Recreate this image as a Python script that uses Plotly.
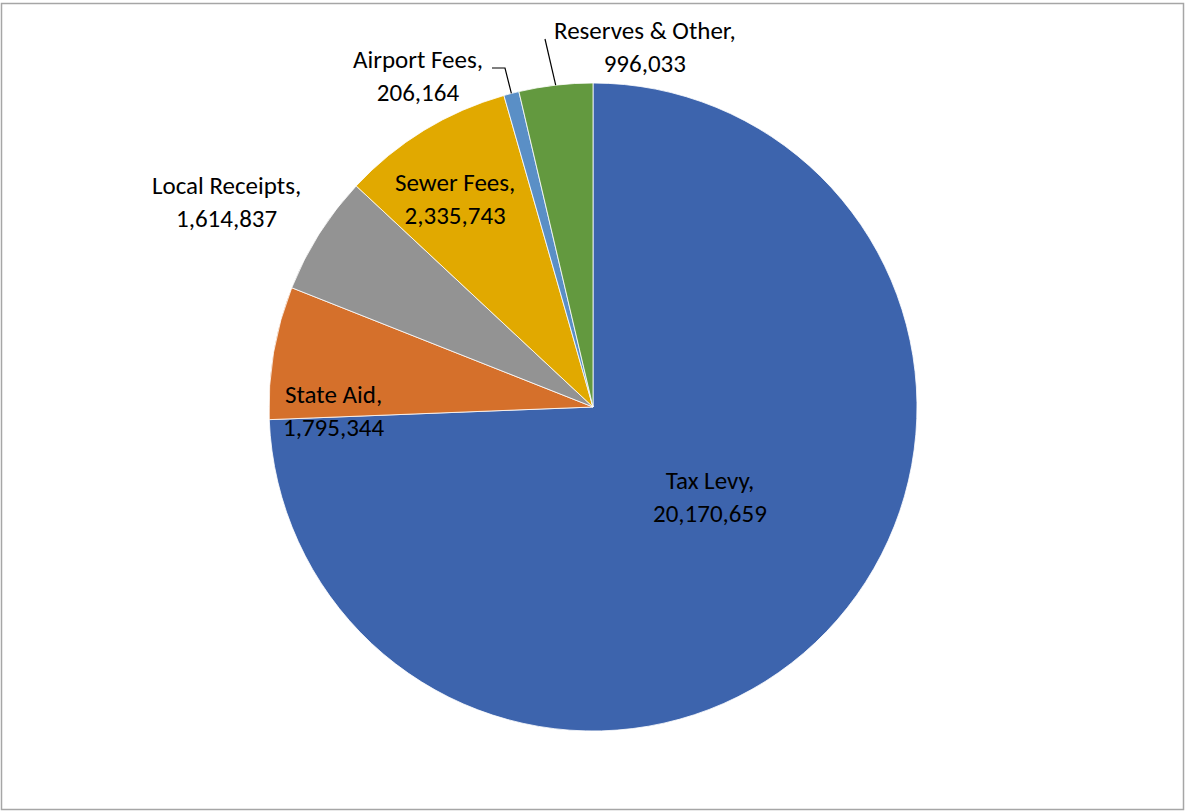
import math
import plotly.graph_objects as go

categories = ["Tax Levy", "State Aid", "Local Receipts", "Sewer Fees", "Airport Fees", "Reserves & Other"]
values = [20170659, 1795344, 1614837, 2335743, 206164, 996033]
colors = ["#3D64AD", "#D5702B", "#939393", "#E1A900", "#5A8FC6", "#63993F"]

W, H = 1185, 811
CX, CY, R = 593, 407, 324  # pie center/radius in pixels


def px(x):
    return x / W


def py(y):
    return 1 - y / H


fig = go.Figure(go.Pie(
    labels=categories,
    values=values,
    sort=False,
    direction="clockwise",
    rotation=0,
    marker=dict(colors=colors, line=dict(color="white", width=0.8)),
    textinfo="none",
    hoverinfo="label+value",
    domain=dict(x=[px(CX - R), px(CX + R)], y=[py(CY + R), py(CY - R)]),
    showlegend=False,
))

# label placement (pixel centres) per category
label_pos = {
    "Tax Levy": (710, 497),
    "State Aid": (334, 411),
    "Local Receipts": (226, 202),
    "Sewer Fees": (455, 199),
    "Airport Fees": (418, 76),
    "Reserves & Other": (645, 47),
}

annotations = []
for cat, val in zip(categories, values):
    x, y = label_pos[cat]
    annotations.append(dict(
        x=px(x), y=py(y), xref="paper", yref="paper",
        text=f"{cat},<br>{val:,}", showarrow=False,
        font=dict(family="Carlito, Lato, sans-serif", size=25, color="#000000"),
        align="center", xanchor="center", yanchor="middle",
    ))

# leader lines for the small slices, computed from slice mid-angles
total = sum(values)
cum = 0
mids = {}
for cat, val in zip(categories, values):
    mids[cat] = (cum + val / 2) / total * 2 * math.pi
    cum += val

shapes = []


def edge(cat, f=1.0):
    a = mids[cat]
    return CX + R * f * math.sin(a), CY - R * f * math.cos(a)


ex, ey = edge("Airport Fees")
shapes.append(dict(type="path", xref="paper", yref="paper",
                   path=f"M {px(492)} {py(68)} L {px(505)} {py(68)} L {px(ex)} {py(ey)}",
                   line=dict(color="#000000", width=1.2)))
ex, ey = edge("Reserves & Other")
shapes.append(dict(type="line", xref="paper", yref="paper",
                   x0=px(545), y0=py(39), x1=px(ex), y1=py(ey),
                   line=dict(color="#000000", width=1.2)))

# chart border
shapes.append(dict(type="rect", xref="paper", yref="paper",
                   x0=px(1.5), x1=px(1183.5), y0=py(809.5), y1=py(3.5),
                   line=dict(color="#A6A6A6", width=1.5), fillcolor="rgba(0,0,0,0)"))

fig.update_layout(
    width=W, height=H,
    margin=dict(l=0, r=0, t=0, b=0),
    paper_bgcolor="white", plot_bgcolor="white",
    annotations=annotations, shapes=shapes,
)

fig.write_html("out.html", config={"displayModeBar": False},
               post_script="document.body.style.margin='0px';document.body.style.overflow='hidden';")
